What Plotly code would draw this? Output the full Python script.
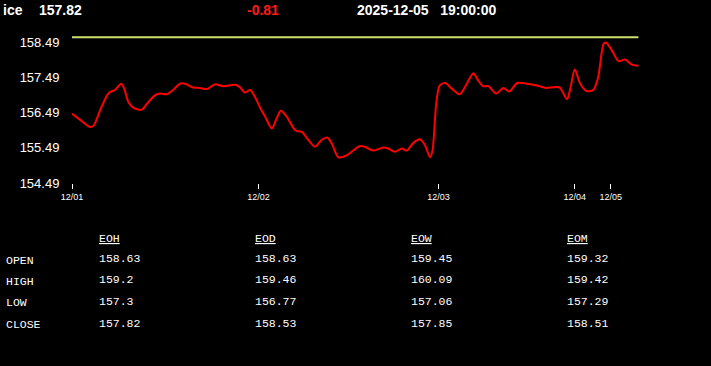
import plotly.graph_objects as go

# ---- data ----
symbol = "ice"
last_price = "157.82"
change = "-0.81"
timestamp = "2025-12-05   19:00:00"
ref_price = 158.63  # reference (open) level

x_idx = [0.0, 1.3, 3.0, 3.6, 4.7, 6.1, 7.2, 8.2, 8.7, 9.4, 10.2, 11.6, 12.5, 13.8, 14.7,
         15.8, 16.9, 18.0, 18.8, 20.2, 21.3, 22.5, 23.8, 25.2, 27.2, 28.0, 28.8, 29.7,
         30.5, 31.3, 32.2, 33.3, 34.1, 34.8, 35.8, 37.2, 38.3, 39.4, 40.5, 41.6, 42.5,
         43.3, 44.4, 45.8, 48.0, 48.8, 50.2, 51.9, 52.7, 53.8, 55.0, 55.8, 56.9, 58.0,
         58.8, 59.7, 60.1, 60.7, 61.3, 62.2, 63.3, 64.6, 65.8, 66.9, 67.7, 68.5, 69.4,
         70.7, 71.9, 72.9, 74.2, 75.8, 77.5, 79.0, 80.2, 81.3, 82.5, 83.1, 83.8, 84.7,
         85.8, 86.9, 87.7, 88.6, 89.0, 90.0, 91.1, 92.2, 93.3, 94.4]
prices = [156.46, 156.29, 156.08, 156.12, 156.56, 157.04, 157.14, 157.31, 157.17, 156.79,
          156.63, 156.57, 156.74, 156.98, 157.03, 157.01, 157.14, 157.31, 157.31, 157.20,
          157.19, 157.16, 157.29, 157.24, 157.28, 157.21, 157.06, 157.13, 156.93, 156.65,
          156.37, 156.04, 156.32, 156.54, 156.37, 155.99, 155.94, 155.71, 155.52, 155.71,
          155.78, 155.61, 155.22, 155.28, 155.54, 155.52, 155.41, 155.50, 155.47, 155.38,
          155.47, 155.41, 155.63, 155.73, 155.57, 155.22, 155.43, 156.74, 157.26, 157.33,
          157.17, 157.01, 157.31, 157.61, 157.40, 157.24, 157.24, 157.03, 157.19, 157.09,
          157.33, 157.31, 157.26, 157.19, 157.21, 157.20, 156.87, 157.21, 157.71, 157.31,
          157.10, 157.14, 157.50, 158.44, 158.48, 158.25, 157.95, 158.00, 157.85, 157.82]

y_ticks = [154.49, 155.49, 156.49, 157.49, 158.49]
x_tick_pos = [0.0, 31.1, 61.1, 83.8, 89.8]
x_tick_labels = ["12/01", "12/02", "12/03", "12/04", "12/05"]

table_cols = ["EOH", "EOD", "EOW", "EOM"]
table_rows = ["OPEN", "HIGH", "LOW", "CLOSE"]
table_vals = {
    "EOH": ["158.63", "159.2", "157.3", "157.82"],
    "EOD": ["158.63", "159.46", "156.77", "158.53"],
    "EOW": ["159.45", "160.09", "157.06", "157.85"],
    "EOM": ["159.32", "159.42", "157.29", "158.51"],
}

# ---- layout geometry (pixels) ----
W, H = 711, 366
PL, PR = 72, 640
PT, PB = 30.7, 183.5


def px(x):
    return (x - PL) / (PR - PL)


def py(y):
    return (PB - y) / (PB - PT)


fig = go.Figure()
fig.add_trace(go.Scatter(x=[x_idx[0], x_idx[-1]], y=[ref_price, ref_price], mode="lines",
                         line=dict(color="#cde06a", width=2), hoverinfo="skip"))
fig.add_trace(go.Scatter(x=x_idx, y=prices, mode="lines",
                         line=dict(color="#ff0000", width=2, shape="spline", smoothing=0.8)))

annotations = []
hdr_font = dict(family="Liberation Sans, Arial", size=14, color="white")
annotations.append(dict(x=px(1), y=py(9.5), text="<b>%s</b>" % symbol, xanchor="left", yanchor="middle", font=hdr_font))
annotations.append(dict(x=px(37), y=py(9.5), text="<b>%s</b>" % last_price, xanchor="left", yanchor="middle", font=hdr_font))
annotations.append(dict(x=px(245), y=py(9.5), text="<b>%s</b>" % change, xanchor="left", yanchor="middle",
                        font=dict(family="Liberation Sans, Arial", size=14, color="#ff1a1a")))
annotations.append(dict(x=px(355), y=py(9.5), text="<b>%s</b>" % timestamp.replace(" ", "&nbsp;"), xanchor="left", yanchor="middle", font=hdr_font))

mono = dict(family="Liberation Mono, DejaVu Sans Mono, monospace", size=11.5, color="white")
col_x = [97, 253, 409, 565]
row_y = [259.5, 281, 302.5, 324.5]
for cx, c in zip(col_x, table_cols):
    annotations.append(dict(x=px(cx), y=py(239), text="<u>%s</u>" % c, xanchor="left", yanchor="middle", font=mono))
    for ry, v in zip(row_y, table_vals[c]):
        annotations.append(dict(x=px(cx), y=py(ry), text=v, xanchor="left", yanchor="middle", font=mono))
for ry, r in zip(row_y, table_rows):
    annotations.append(dict(x=px(4), y=py(ry + 1.5), text=r, xanchor="left", yanchor="middle", font=mono))

for a in annotations:
    a.update(xref="paper", yref="paper", showarrow=False)

fig.update_layout(
    width=W, height=H,
    margin=dict(l=PL, r=W - PR, t=PT, b=H - PB, pad=0),
    paper_bgcolor="black", plot_bgcolor="black",
    showlegend=False,
    annotations=annotations,
    xaxis=dict(range=[0, (PR - PL) / 6.0], tickmode="array", tickvals=x_tick_pos, ticktext=x_tick_labels,
               showgrid=False, zeroline=False, showline=False, ticks="outside", ticklen=5, tickwidth=1,
               tickcolor="white", tickfont=dict(family="Liberation Sans, Arial", size=9, color="white")),
    yaxis=dict(range=[154.49, 154.49 + (PB - PT) / 35.4], tickmode="array", tickvals=y_ticks,
               ticktext=["%.2f" % v for v in y_ticks], showgrid=False, zeroline=False, showline=False,
               ticks="outside", ticklen=9, tickcolor="black",
               tickfont=dict(family="Liberation Sans, Arial", size=13, color="white")),
)

fig.write_html("out.html")
